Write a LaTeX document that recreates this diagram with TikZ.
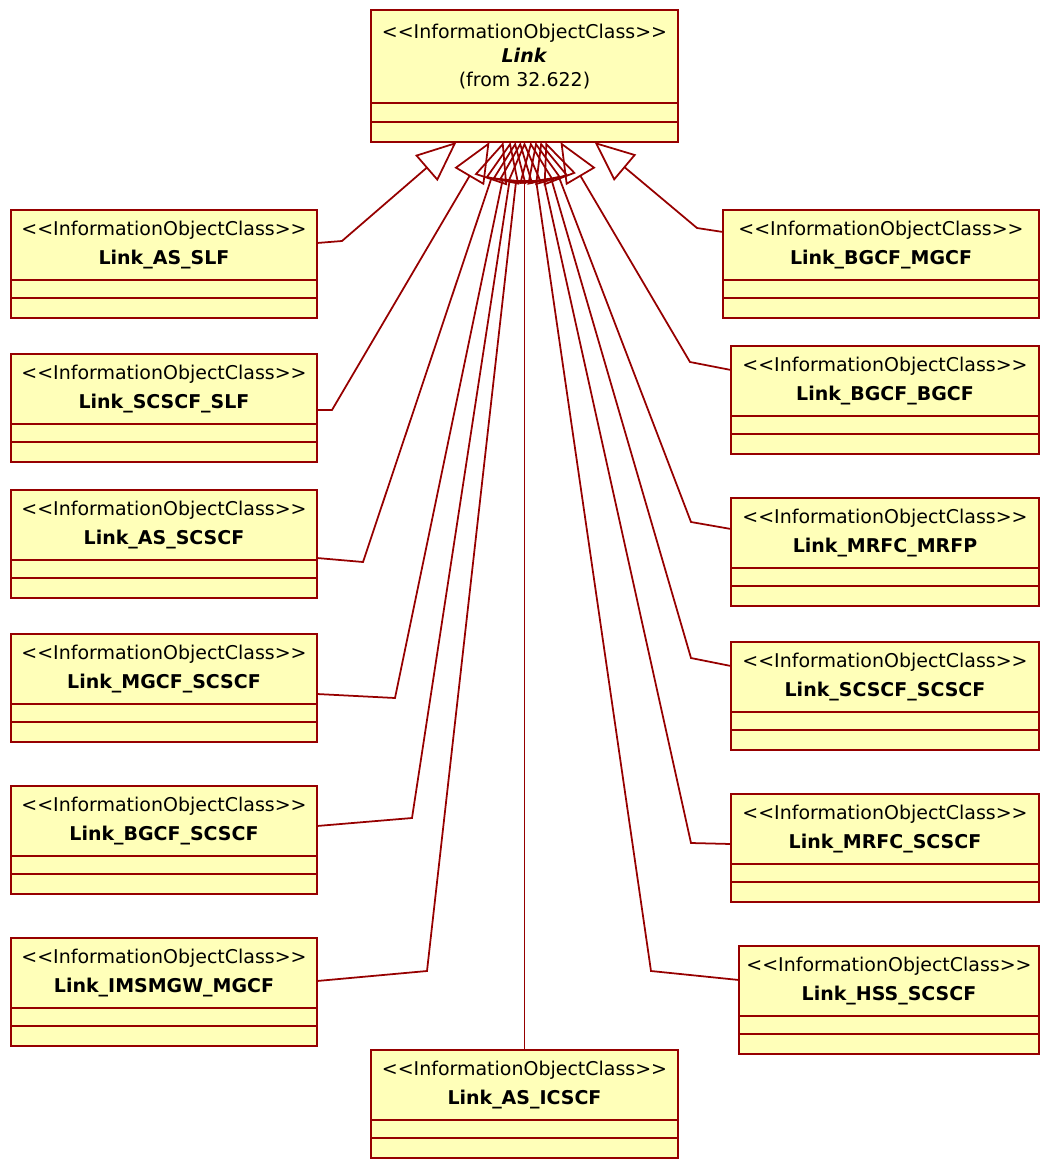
\documentclass[tikz,border=0pt]{standalone}
\usepackage{fontspec}
\setmainfont{DejaVu Sans}
\usepackage{tikz}
\usetikzlibrary{arrows.meta}
\usetikzlibrary{calc}
\definecolor{roseline}{RGB}{150,0,0}
\definecolor{rosefill}{RGB}{255,255,185}
\def\px{0.02cm}
\def\stereo{{<}{<}InformationObjectClass{>}{>}}

\begin{document}
\begin{tikzpicture}[	x=0.02cm, y=-0.02cm, line width=1pt,
				classbox/.style={draw=roseline,fill=rosefill,rectangle,inner sep=0pt,outer sep=0pt,anchor=north west,align=center,font=\fontsize{10.8}{16}\selectfont},
				compart/.style={draw=roseline,fill=rosefill},
				gen/.style={draw=roseline,-{Triangle[open,length=0.8cm,width=0.68cm]}}]

	\useasboundingbox (0,0) rectangle (1039,1160);

	% Superclass
	\node[classbox,minimum width=307*\px,minimum height=93*\px,font=\fontsize{10.8}{13.5}\selectfont] (link) at (371,10) {\stereo\\\textbf{\textit{Link}}\\(from 32.622)};
	\draw[compart] (link.south west) rectangle ++(307,39);
	\draw[roseline] (link.south west) ++(0,19) -- ++(307,0);

	% Subclasses, left column
	\foreach \n/\t/\lab in {aslf/210/AS\_SLF, scscfslf/354/SCSCF\_SLF, asscscf/490/AS\_SCSCF,
			mgcfscscf/634/MGCF\_SCSCF, bgcfscscf/786/BGCF\_SCSCF, imsmgwmgcf/938/IMSMGW\_MGCF}
	{
		\node[classbox,minimum width=306*\px,minimum height=70*\px] (\n) at (11,\t) {\stereo\\\textbf{Link\_\lab}};
		\draw[compart] (\n.south west) rectangle ++(306,38);
		\draw[roseline] (\n.south west) ++(0,18) -- ++(306,0);
	}

	% Subclasses, right column
	\foreach \n/\x/\w/\t/\lab in {bgcfmgcf/723/316/210/BGCF\_MGCF, bgcfbgcf/731/308/346/BGCF\_BGCF,
			mrfcmrfp/731/308/498/MRFC\_MRFP, scscfscscf/731/308/642/SCSCF\_SCSCF,
			mrfcscscf/731/308/794/MRFC\_SCSCF, hssscscf/739/300/946/HSS\_SCSCF}
	{
		\node[classbox,minimum width=\w*\px,minimum height=70*\px] (\n) at (\x,\t) {\stereo\\\textbf{Link\_\lab}};
		\draw[compart] (\n.south west) rectangle ++(\w,38);
		\draw[roseline] (\n.south west) ++(0,18) -- ++(\w,0);
	}

	% Subclass below
	\node[classbox,minimum width=307*\px,minimum height=70*\px] (asicscf) at (371,1050) {\stereo\\\textbf{Link\_AS\_ICSCF}};
	\draw[compart] (asicscf.south west) rectangle ++(307,38);
	\draw[roseline] (asicscf.south west) ++(0,18) -- ++(307,0);

	% Generalisations from the left
	\foreach \n/\dy/\bx/\by/\dx in {aslf/33/342/241/-68, scscfslf/56/332/410/-35, asscscf/68/363/562/-21,
			mgcfscscf/60/395/698/-14, bgcfscscf/40/412/818/-9, imsmgwmgcf/43/427/971/-4}
	{
		\coordinate (\n-bend) at (\bx,\by);
		\coordinate (\n-tip) at ($(link.south)+(\dx,39)$);
		\draw[gen] ($(\n.north east)+(0,\dy)$) -- (\n-bend) -- (\n-tip);
	}

	% Generalisations from the right
	\foreach \n/\dy/\bx/\by/\dx in {bgcfmgcf/22/697/228/70, bgcfbgcf/24/690/362/36, mrfcmrfp/31/691/522/21,
			scscfscscf/24/691/658/16, mrfcscscf/50/691/843/11, hssscscf/34/651/971/6}
	{
		\coordinate (\n-bend) at (\bx,\by);
		\coordinate (\n-tip) at ($(link.south)+(\dx,39)$);
		\draw[gen] ($(\n.north west)+(0,\dy)$) -- (\n-bend) -- (\n-tip);
	}

	% Generalisation from below
	\coordinate (asicscf-tip) at ($(link.south)+(0,39)$);
	\draw[gen] (asicscf.north) -- (asicscf-tip);

\end{tikzpicture}
\end{document}
